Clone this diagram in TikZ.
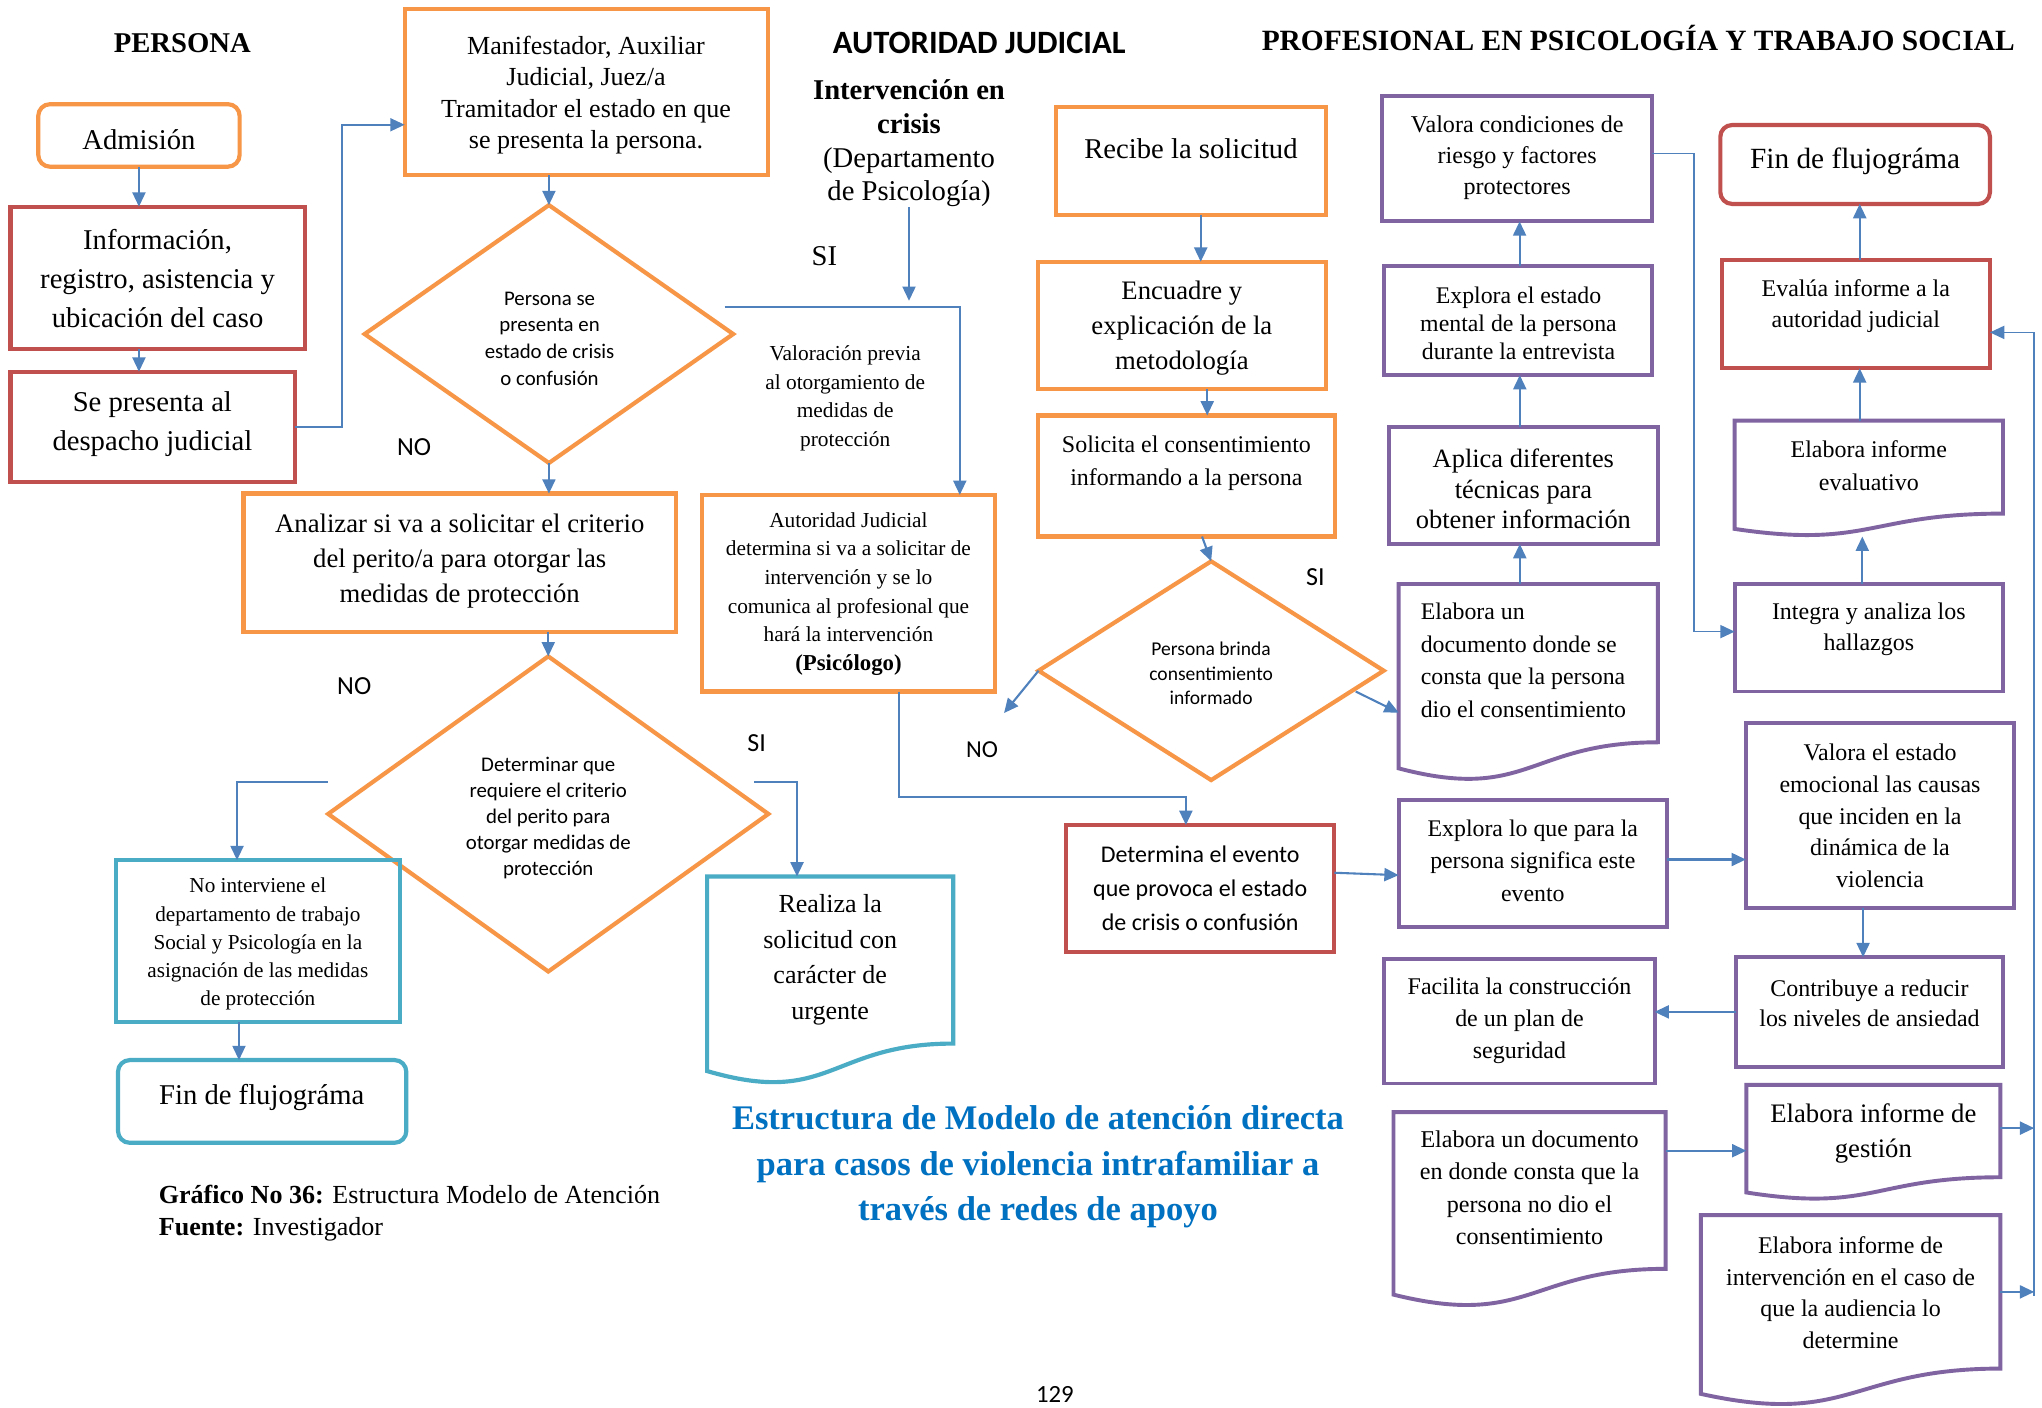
\documentclass[tikz,border=0pt]{standalone}
\usepackage{fontspec}
\setmainfont{Liberation Serif}
\newfontfamily\cfont{Carlito}
\usetikzlibrary{shapes.geometric,arrows.meta,calc,fit}
\definecolor{orng}{HTML}{F79646}
\definecolor{redc}{HTML}{C0504D}
\definecolor{cyanc}{HTML}{4BACC6}
\definecolor{purp}{HTML}{8064A2}
\definecolor{arrb}{HTML}{4F81BD}
\definecolor{tblue}{HTML}{0070C0}
\newcommand\fs[2]{\fontsize{#1}{#2}\selectfont}
\newcommand\docshape[2]{\draw[#2] (#1.north west) -- (#1.north east) -- ($(#1.north east)!0.802!(#1.south east)$) .. controls ($(#1.north)!0.802!(#1.south)$) and ($(#1.north)!1.107!(#1.south)$) .. ($(#1.north west)!0.934!(#1.south west)$) -- cycle;}
\tikzset{
 every node/.style={inner sep=0pt,outer sep=0pt},
 bx/.style={draw, line width=3.2pt, inner sep=0pt, rectangle},
 ob/.style={bx, draw=orng},
 rb/.style={bx, draw=redc},
 cb/.style={bx, draw=cyanc},
 pb/.style={bx, draw=purp, line width=3pt},
 db/.style={inner sep=0pt, rectangle},
 pl/.style={draw=purp, line width=3pt},
 cl/.style={draw=cyanc, line width=3.2pt},
 dmd/.style={diamond, draw=orng, line width=3.2pt, inner sep=0pt},
 arr/.style={draw=arrb, line width=1.6pt, -{Triangle[length=11pt,width=10pt]}},
 arrthin/.style={draw=arrb, line width=1.3pt, -{Triangle[length=11pt,width=10pt]}},
 tx/.style={align=center, text=black, yshift=-2pt},
}
\begin{document}
\begin{tikzpicture}[x=1pt,y=-1pt]
\fill[white] (0,0) rectangle (1568,1081);
\useasboundingbox (0,0) rectangle (1568,1081);

% headers
\node[font=\bfseries\fs{22}{26}] (hpers) at (140,33) {PERSONA};
\node[font=\cfont\bfseries\fs{25}{28}] (haut) at (752,33) {AUTORIDAD JUDICIAL};
\node[font=\bfseries\fs{22.6}{26}] (hprof) at (1258,29) {PROFESIONAL EN PSICOLOGÍA Y TRABAJO SOCIAL};

% column persona
\node[ob, rounded corners=9pt, fit={(29.4,80)(184,128)}] (adm) {};
\node[tx, font=\fs{22}{26}] (adm-t) at (106.7,105) {Admisión};
\node[rb, fit={(8,158.7)(234,268)}] (info) {};
\node[tx, font=\fs{22}{30}] (info-t) at (121,212) {Información,\\registro, asistencia y\\ubicación del caso};
\node[rb, fit={(8,285.4)(226.5,370)}] (sepres) {};
\node[tx, font=\fs{22}{30}] (sepres-t) at (117,324) {Se presenta al\\despacho judicial};

\node[ob, fit={(310.7,7.2)(589.6,134.4)}] (manif) {};
\node[tx, font=\fs{20}{24}] (manif-t) at (450,71) {Manifestador, Auxiliar\\Judicial, Juez/a\\Tramitador el estado en que\\se presenta la persona.};

\node[dmd, minimum width=283pt, minimum height=198pt] (d1) at (421.5,256.5) {};
\node[tx, font=\cfont\fs{16}{20.5}] (d1-t) at (422,258) {Persona se\\presenta en\\estado de crisis\\o confusión};

\node[ob, fit={(187,379)(519,485)}] (anal) {};
\node[tx, font=\fs{20.5}{27}] (anal-t) at (353,429) {Analizar si va a solicitar el criterio\\del perito/a para otorgar las\\medidas de protección};

\node[dmd, minimum width=338pt, minimum height=242pt] (d2) at (421,625) {};
\node[tx, font=\cfont\fs{16}{20}] (d2-t) at (421,626) {Determinar que\\requiere el criterio\\del perito para\\otorgar medidas de\\protección};

\node[cb, fit={(89,660.5)(307,785)}] (noint) {};
\node[tx, font=\fs{16.3}{21.7}] (noint-t) at (198,723) {No interviene el\\departamento de trabajo\\Social y Psicología en la\\asignación de las medidas\\de protección};

\node[cb, rounded corners=9pt, fit={(90.6,814)(312,877.5)}] (fin1) {};
\node[tx, font=\fs{22}{26}] (fin1-t) at (201,841) {Fin de flujográma};

\node[db, fit={(543,673)(732,833)}] (realiza) {};
\docshape{realiza}{cl}
\node[tx, font=\fs{20}{27.3}] (realiza-t) at (637.5,735) {Realiza la\\solicitud con\\carácter de\\urgente};

% column autoridad
\node[tx, font=\fs{22}{26}] (interv) at (698,108) {\textbf{Intervención en}\\\textbf{crisis}\\(Departamento\\de Psicología)};
\node[tx, font=\fs{16.4}{22}] (valprev) at (649,304) {Valoración previa\\al otorgamiento de\\medidas de\\protección};
\node[ob, fit={(539,380)(764,531)}] (autor) {};
\node[tx, font=\fs{16.4}{22}] (autor-t) at (651.5,454) {Autoridad Judicial\\determina si va a solicitar de\\intervención y se lo\\comunica al profesional que\\hará la intervención\\{\fs{17.5}{22}\textbf{(Psicólogo)}}};

% column 3
\node[ob, fit={(811,82)(1018,165)}] (recibe) {};
\node[tx, font=\fs{22}{26}] (recibe-t) at (914.5,112) {Recibe la solicitud};
\node[ob, fit={(797,201)(1018,299)}] (encu) {};
\node[tx, font=\fs{20.5}{27}] (encu-t) at (907.5,250) {Encuadre y\\explicación de la\\metodología};
\node[ob, fit={(797,319)(1025,412)}] (solic) {};
\node[tx, font=\fs{18.4}{25}] (solic-t) at (911,353.5) {Solicita el consentimiento\\informando a la persona};
\node[dmd, minimum width=265pt, minimum height=168pt] (d3) at (930,515) {};
\node[tx, font=\cfont\fs{15}{19}] (d3-t) at (930,515) {Persona brinda\\consentimiento\\informado};
\node[rb, fit={(818.6,633.5)(1024.6,730.8)}] (determ) {};
\node[tx, font=\cfont\fs{18.4}{26}] (determ-t) at (921.6,680) {Determina el evento\\que provoca el estado\\de crisis o confusión};

% column 4
\node[pb, fit={(1061,73.7)(1268.6,170)}] (valc) {};
\node[tx, font=\fs{18.5}{24}] (valc-t) at (1165,119) {Valora condiciones de\\riesgo y factores\\protectores};
\node[pb, fit={(1063,204)(1268.7,288)}] (exple) {};
\node[tx, font=\fs{18.3}{21.5}] (exple-t) at (1166,246.5) {Explora el estado\\mental de la persona\\durante la entrevista};
\node[pb, fit={(1066.5,328)(1273,417.7)}] (aplica) {};
\node[tx, font=\fs{20.3}{23.5}] (aplica-t) at (1169.75,373.5) {Aplica diferentes\\técnicas para\\obtener información};
\node[db, fit={(1074,448.4)(1273,600)}] (elabc) {};
\docshape{elabc}{pl}
\node[tx, align=left, anchor=west, font=\fs{18.3}{25}] (elabc-t) at (1091,505) {Elabora un\\documento donde se\\consta que la persona\\dio el consentimiento};
\node[pb, fit={(1074,614)(1280,712)}] (explq) {};
\node[tx, font=\fs{18.3}{25}] (explq-t) at (1177,659) {Explora lo que para la\\persona significa este\\evento};
\node[pb, fit={(1063,736.6)(1270.5,832)}] (facil) {};
\node[tx, font=\fs{18.4}{24.5}] (facil-t) at (1166.75,781.5) {Facilita la construcción\\de un plan de\\seguridad};
\node[db, fit={(1070,854)(1279,1004)}] (elabnd) {};
\docshape{elabnd}{pl}
\node[tx, font=\fs{18.5}{24.7}] (elabnd-t) at (1174.5,910) {Elabora un documento\\en donde consta que la\\persona no dio el\\consentimiento};

% column 5
\node[rb, rounded corners=9pt, fit={(1321,96)(1528,156.6)}] (fin2) {};
\node[tx, font=\fs{22.5}{26}] (fin2-t) at (1424.5,122) {Fin de flujográma};
\node[rb, fit={(1322,199.7)(1528,282.8)}] (evalua) {};
\node[tx, font=\fs{18.4}{24}] (evalua-t) at (1425,233) {Evalúa informe a la\\autoridad judicial};
\node[db, fit={(1332,323)(1538,412)}] (evalu) {};
\docshape{evalu}{pl}
\node[tx, font=\fs{18.4}{25}] (evalu-t) at (1435,355.5) {Elabora informe\\evaluativo};
\node[pb, fit={(1332,448.4)(1538,531)}] (integ) {};
\node[tx, font=\fs{18.4}{24}] (integ-t) at (1435,481) {Integra y analiza los\\hallazgos};
\node[pb, fit={(1340.6,555.3)(1546.6,697)}] (valemo) {};
\node[tx, font=\fs{18.4}{24.3}] (valemo-t) at (1443.6,624.5) {Valora el estado\\emocional las causas\\que inciden en la\\dinámica de la\\violencia};
\node[pb, fit={(1333,735)(1538,819)}] (contrib) {};
\node[tx, font=\fs{18.4}{23}] (contrib-t) at (1435.5,768.5) {Contribuye a reducir\\los niveles de ansiedad};
\node[db, fit={(1341,833)(1536,921.5)}] (gest) {};
\docshape{gest}{pl}
\node[tx, font=\fs{20.5}{27}] (gest-t) at (1438.5,868.5) {Elabora informe de\\gestión};
\node[db, fit={(1306,933)(1536,1080)}] (intd) {};
\docshape{intd}{pl}
\node[tx, font=\fs{18.4}{24.3}] (intd-t) at (1421,990.5) {Elabora informe de\\intervención en el caso de\\que la audiencia lo\\determine};

% labels
\node[font=\fs{22}{26}] (si1) at (633,197) {SI};
\node[font=\cfont\fs{20}{24}] (no1) at (318,343) {NO};
\node[font=\cfont\fs{20}{24}] (no2) at (272,527) {NO};
\node[font=\cfont\fs{20}{24}] (si2) at (581,571) {SI};
\node[font=\cfont\fs{20}{24}] (si3) at (1010,443) {SI};
\node[font=\cfont\fs{18.7}{22}] (no3) at (754,576) {NO};

% title, caption, page
\node[tx, font=\bfseries\fs{26.5}{35}, text=tblue] (title) at (797,894) {Estructura de Modelo de atención directa\\para casos de violencia intrafamiliar a\\través de redes de apoyo};
\node[anchor=west, font=\fs{20}{26}] (cap1) at (122,917) {\textbf{Gráfico No 36:} Estructura Modelo de Atención};
\node[anchor=west, font=\fs{20}{26}] (cap2) at (122,944) {\textbf{Fuente:} Investigador};
\node[font=\cfont\fs{19}{22}] (page) at (810,1071) {129};

% coordinates for free ends
\coordinate (d1r) at (556.5,235.5);
\coordinate (ivend) at (698,231);
\coordinate (d2l) at (252,600.5);
\coordinate (d2r) at (579,600.5);
\coordinate (noend) at (771,547.5);
\coordinate (d3si) at (1041,531);
\coordinate (rvb) at (1562,995);

% connectors persona
\draw[arr] (adm.south) -- (adm.south |- info.north);
\draw[arr] (info.south -| adm.south) -- (adm.south |- sepres.north);
\draw[arrthin] (sepres.east) -- ++(36,0) |- ([yshift=-25pt]manif.west);
\draw[arr] (manif.south -| d1.north) -- (d1.north);
\draw[arr] (d1.south) -- (d1.south |- anal.north);
\draw[arr] (anal.south -| d2.north) -- (d2.north);
\draw[arr] (d2l) -| ([xshift=-16pt]noint.north);
\draw[arr] (d2r) -| ([xshift=-25.5pt]realiza.north);
\draw[arr] ([xshift=-14.5pt]noint.south) -- ([xshift=-14.5pt]noint.south |- fin1.north);

% connectors autoridad
\draw[arr] (d1r) -| ([xshift=85.5pt]autor.north);
\draw[arr] (interv.south) -- (ivend);
\draw[arr] ([xshift=38.5pt]autor.south) -- ++(0,81) -| ([xshift=-11pt]determ.north);

% connectors column 3
\draw[arr] ([xshift=7.5pt]recibe.south) -- ([xshift=7.5pt]recibe.south |- encu.north);
\draw[arr] ([xshift=19.5pt]encu.south) -- ([xshift=19.5pt]encu.south |- solic.north);
\draw[arr] ([xshift=12pt]solic.south) -- (d3.north);
\draw[arr] (d3.west) -- (noend);
\draw[arr] (d3si) -- ([yshift=-23pt]elabc.west);
\draw[arr] ([yshift=12pt]determ.east) -- ([yshift=-9pt]explq.west);

% connectors column 4
\draw[arr] ([xshift=-6.5pt]elabc.north) -- ([xshift=-6.5pt]elabc.north |- aplica.south);
\draw[arr] ([xshift=-2.75pt]aplica.north) -- ([xshift=-2.75pt]aplica.north |- exple.south);
\draw[arr] ([xshift=1pt]exple.north) -- ([xshift=1pt]exple.north |- valc.south);
\draw[arrthin] ([yshift=4pt]valc.east) -- ++(32,0) |- ([yshift=4.7pt]integ.west);

% connectors column 5
\draw[arr] ([xshift=-5pt]integ.north) -- ([xshift=-5pt]integ.north |- evalu.south);
\draw[arr] ([xshift=-7pt]evalu.north) -- ([xshift=-7pt]evalu.north |- evalua.south);
\draw[arr] ([xshift=3pt]evalua.north) -- ([xshift=3pt]evalua.north |- fin2.south);
\draw[arr] ([yshift=3pt]explq.east) -- ([yshift=3pt]explq.east -| valemo.west);
\draw[arr] ([xshift=-13pt]valemo.south) -- ([xshift=-13pt]valemo.south |- contrib.north);
\draw[arr] (contrib.west) -- (contrib.west -| facil.east);
\draw[arr] ([yshift=45.4pt]elabnd.east) -- ([yshift=45.4pt]elabnd.east -| gest.west);
\draw[arrthin] (rvb) |- ([yshift=-14pt]evalua.east);
\draw[arr] ([yshift=11pt]gest.east) -- ([yshift=11pt]gest.east -| rvb);
\draw[arr] ([yshift=14.5pt]intd.east) -- ([yshift=14.5pt]intd.east -| rvb);
\end{tikzpicture}
\end{document}
